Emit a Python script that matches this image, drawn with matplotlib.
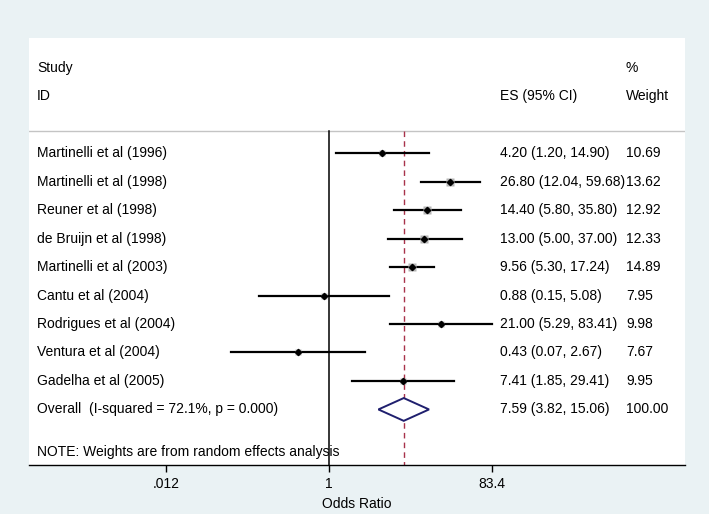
import numpy as np
import matplotlib
matplotlib.use("Agg")
import matplotlib.pyplot as plt

plt.rcParams['font.family'] = ['Liberation Sans', 'DejaVu Sans']

# study-level data
studies = ['Martinelli et al (1996)', 'Martinelli et al (1998)', 'Reuner et al (1998)',
           'de Bruijn et al (1998)', 'Martinelli et al (2003)', 'Cantu et al (2004)',
           'Rodrigues et al (2004)', 'Ventura et al (2004)', 'Gadelha et al (2005)']
es = [4.20, 26.80, 14.40, 13.00, 9.56, 0.88, 21.00, 0.43, 7.41]
lower = [1.20, 12.04, 5.80, 5.00, 5.30, 0.15, 5.29, 0.07, 1.85]
upper = [14.90, 59.68, 35.80, 37.00, 17.24, 5.08, 83.41, 2.67, 29.41]
weights = [10.69, 13.62, 12.92, 12.33, 14.89, 7.95, 9.98, 7.67, 9.95]

overall_label = 'Overall  (I-squared = 72.1%, p = 0.000)'
overall = (7.59, 3.82, 15.06)
overall_weight = 100.00

tick_vals = [0.012, 1, 83.4]
tick_labels = ['.012', '1', '83.4']

W, H = 709, 514
fig = plt.figure(figsize=(W / 100, H / 100), dpi=100, facecolor='#eaf2f4')
ax = fig.add_axes([29 / W, (H - 465) / H, (685 - 29) / W, (465 - 38) / H])
ax.set_facecolor('white')

ax.set_xscale('log')
ax.set_xlim(np.exp(-8.13), np.exp(9.65))
ax.set_ylim(10.95, -4.04)

fs = 10
line_top = -0.77

# header
ax.text(0.012, -3, 'Study', transform=ax.get_yaxis_transform(), va='center', fontsize=fs)
ax.text(0.012, -2, 'ID', transform=ax.get_yaxis_transform(), va='center', fontsize=fs)
ax.text(0.718, -2, 'ES (95% CI)', transform=ax.get_yaxis_transform(), va='center', fontsize=fs)
ax.text(0.910, -3, '%', transform=ax.get_yaxis_transform(), va='center', fontsize=fs)
ax.text(0.910, -2, 'Weight', transform=ax.get_yaxis_transform(), va='center', fontsize=fs)
ax.axhline(line_top, color='#c4c4c4', lw=1.0)

# reference lines
ax.plot([1, 1], [line_top, 10.95], color='black', lw=1.1, zorder=2)
ax.plot([overall[0], overall[0]], [line_top, 10.95], color='#a8324a', lw=1.0,
        ls=(0, (4, 3)), zorder=2)

for i, name in enumerate(studies):
    ax.plot([lower[i], upper[i]], [i, i], color='black', lw=1.6, zorder=3)
    side = 2.0 * np.sqrt(weights[i]) * 0.72
    ax.plot(es[i], i, marker='s', ms=side, color='#b4b4b4', mec='none', zorder=3)
    ax.plot(es[i], i, marker='D', ms=3.2, color='black', zorder=4)
    ax.text(0.012, i, name, transform=ax.get_yaxis_transform(), va='center', fontsize=fs)
    ax.text(0.718, i, f'{es[i]:.2f} ({lower[i]:.2f}, {upper[i]:.2f})',
            transform=ax.get_yaxis_transform(), va='center', fontsize=fs)
    ax.text(0.910, i, f'{weights[i]:.2f}', transform=ax.get_yaxis_transform(),
            va='center', fontsize=fs)

# overall diamond
yo = len(studies)
est, lo, hi = overall
ax.fill([lo, est, hi, est, lo], [yo, yo - 0.4, yo, yo + 0.4, yo], facecolor='white',
        edgecolor='#1f1f6e', lw=1.4, zorder=4)
ax.text(0.012, yo, overall_label, transform=ax.get_yaxis_transform(), va='center', fontsize=fs)
ax.text(0.718, yo, f'{est:.2f} ({lo:.2f}, {hi:.2f})', transform=ax.get_yaxis_transform(),
        va='center', fontsize=fs)
ax.text(0.910, yo, f'{overall_weight:.2f}', transform=ax.get_yaxis_transform(),
        va='center', fontsize=fs)

ax.text(0.012, 10.5, 'NOTE: Weights are from random effects analysis',
        transform=ax.get_yaxis_transform(), va='center', fontsize=fs)

# axes styling
for s in ['top', 'left', 'right']:
    ax.spines[s].set_visible(False)
ax.spines['bottom'].set_linewidth(1.0)
ax.set_yticks([])
ax.set_xticks(tick_vals)
ax.set_xticklabels(tick_labels, fontsize=fs)
ax.minorticks_off()
ax.tick_params(axis='x', length=5, width=1, pad=4)
ax.set_xlabel('Odds Ratio', fontsize=fs, labelpad=4)

fig.savefig('out.png', dpi=100, facecolor=fig.get_facecolor())
